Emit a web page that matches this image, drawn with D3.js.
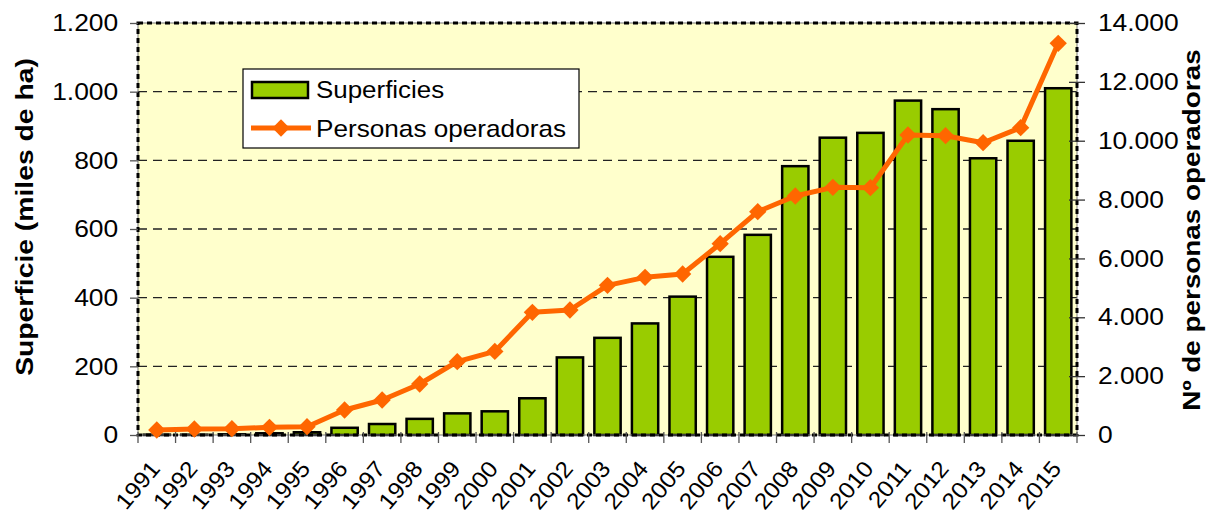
<!DOCTYPE html>
<html>
<head>
<meta charset="utf-8">
<script src="https://cdn.jsdelivr.net/npm/d3@7"></script>
<style>
  html, body { margin: 0; padding: 0; background: #fff; overflow: hidden; }
  svg { display: block; }
  text { font-family: Arial, "Liberation Sans", sans-serif; fill: #000; }
</style>
</head>
<body>
<div id="plot"></div>
<script>
const w = 1213;
const h = 513;
const margin = { top: 23, right: 136, bottom: 78, left: 138 };
const innerWidth = w - margin.left - margin.right;
const innerHeight = h - margin.top - margin.bottom;

const years = ["1991","1992","1993","1994","1995","1996","1997","1998","1999","2000",
  "2001","2002","2003","2004","2005","2006","2007","2008","2009","2010",
  "2011","2012","2013","2014","2015"];
// miles de ha
const superficies = [1, 1, 2, 5, 8, 21, 32, 47, 63, 69,
  107, 226, 283, 325, 403, 519, 583, 783, 866, 880,
  974, 949, 806, 857, 1010];
// personas operadoras
const operadoras = [170, 204, 215, 260, 283, 850, 1189, 1733, 2491, 2840,
  4169, 4247, 5086, 5358, 5470, 6500, 7590, 8121, 8416, 8404,
  10194, 10170, 9932, 10442, 13309];
const leftTicks = [0, 200, 400, 600, 800, 1000, 1200];
const rightTicks = [0, 2000, 4000, 6000, 8000, 10000, 12000, 14000];
const seriesNames = ["Superficies", "Personas operadoras"];

const locale = d3.formatLocale({ decimal: ",", thousands: ".", grouping: [3], currency: ["", "€"] });
const fmt = locale.format(",");

const svg = d3.select("div#plot")
  .append("svg")
  .attr("width", w)
  .attr("height", h);

const xScale = d3.scaleBand()
  .domain(years)
  .range([0, innerWidth])
  .paddingInner(0.3)
  .paddingOuter(0.15);

const yLeft = d3.scaleLinear().domain([0, 1200]).range([innerHeight, 0]);
const yRight = d3.scaleLinear().domain([0, 14000]).range([innerHeight, 0]);

const g = svg.append("g")
  .attr("transform", `translate(${margin.left}, ${margin.top})`);

// plot background
g.append("rect")
  .attr("width", innerWidth)
  .attr("height", innerHeight)
  .attr("fill", "#ffffcc");

// gridlines
g.selectAll(".grid")
  .data(leftTicks.filter(d => d > 0 && d < 1200))
  .enter()
  .append("line")
  .attr("x1", 0)
  .attr("x2", innerWidth)
  .attr("y1", d => yLeft(d))
  .attr("y2", d => yLeft(d))
  .attr("stroke", "#222")
  .attr("stroke-width", 1.3)
  .attr("stroke-dasharray", "9,6");

// bars
g.selectAll(".bar")
  .data(years)
  .enter()
  .append("rect")
  .attr("x", d => xScale(d))
  .attr("y", (d, i) => yLeft(superficies[i]))
  .attr("width", xScale.bandwidth())
  .attr("height", (d, i) => innerHeight - yLeft(superficies[i]))
  .attr("fill", "#99cc00")
  .attr("stroke", "#000")
  .attr("stroke-width", 2.5);

// axes lines (grey) + dashed border
g.append("rect")
  .attr("width", innerWidth)
  .attr("height", innerHeight)
  .attr("fill", "none")
  .attr("stroke", "#777")
  .attr("stroke-width", 1);
g.append("rect")
  .attr("width", innerWidth)
  .attr("height", innerHeight)
  .attr("fill", "none")
  .attr("stroke", "#000")
  .attr("stroke-width", 3)
  .attr("stroke-dasharray", "5,4");

// left axis
const yAxisL = d3.axisLeft(yLeft).tickValues(leftTicks).tickSize(8).tickPadding(10).tickFormat(fmt);
const gl = g.append("g").call(yAxisL);
gl.select(".domain").remove();
gl.selectAll("line").attr("stroke", "#555").attr("stroke-width", 1.3);
gl.selectAll("text").attr("font-size", "24px").attr("fill", "#000").attr("transform", "scale(1.1,1)");

// right axis
const yAxisR = d3.axisRight(yRight).tickValues(rightTicks).tickSize(8).tickPadding(11).tickFormat(fmt);
const gr = g.append("g").attr("transform", `translate(${innerWidth}, 0)`).call(yAxisR);
gr.select(".domain").remove();
gr.selectAll("line").attr("x1", -8).attr("stroke", "#333").attr("stroke-width", 1.3);
gr.selectAll("text").attr("font-size", "24px").attr("fill", "#000").attr("transform", "scale(1.1,1)");

// x ticks at band boundaries
const step = xScale.step();
g.selectAll(".xtick")
  .data(d3.range(years.length + 1))
  .enter()
  .append("line")
  .attr("x1", i => i * step)
  .attr("x2", i => i * step)
  .attr("y1", innerHeight - 3)
  .attr("y2", innerHeight + 8)
  .attr("stroke", "#555")
  .attr("stroke-width", 1.3);

// x labels
g.selectAll(".xlabel")
  .data(years)
  .enter()
  .append("text")
  .attr("transform", d => `translate(${xScale(d) + xScale.bandwidth() / 2 - 8}, ${innerHeight + 24}) rotate(-50) scale(1.06,1)`)
  .attr("text-anchor", "end")
  .attr("dy", "0.7em")
  .attr("font-size", "23px")
  .text(d => d);

// line
const line = d3.line()
  .x((d, i) => xScale(years[i]) + xScale.bandwidth() / 2)
  .y(d => yRight(d));

g.append("path")
  .datum(operadoras)
  .attr("d", line)
  .attr("fill", "none")
  .attr("stroke", "#ff6600")
  .attr("stroke-width", 5)
  .attr("stroke-linejoin", "round");

const diamond = d3.symbol(d3.symbolSquare, 150);
g.selectAll(".marker")
  .data(operadoras)
  .enter()
  .append("path")
  .attr("d", diamond)
  .attr("transform", (d, i) => `translate(${xScale(years[i]) + xScale.bandwidth() / 2}, ${yRight(d)}) rotate(45)`)
  .attr("fill", "#ff6600");

// legend
const legend = svg.append("g").attr("transform", "translate(243, 69)");
legend.append("rect")
  .attr("width", 336)
  .attr("height", 79)
  .attr("fill", "#fff")
  .attr("stroke", "#000")
  .attr("stroke-width", 1.2);
legend.append("rect")
  .attr("x", 9)
  .attr("y", 13)
  .attr("width", 56)
  .attr("height", 16)
  .attr("fill", "#99cc00")
  .attr("stroke", "#000")
  .attr("stroke-width", 2.5);
legend.append("text")
  .attr("transform", "translate(73, 29) scale(1.08,1)")
  .attr("font-size", "24px")
  .text(seriesNames[0]);
legend.append("line")
  .attr("x1", 8)
  .attr("x2", 68)
  .attr("y1", 59)
  .attr("y2", 59)
  .attr("stroke", "#ff6600")
  .attr("stroke-width", 5);
legend.append("path")
  .attr("d", diamond)
  .attr("transform", "translate(38, 59) rotate(45)")
  .attr("fill", "#ff6600");
legend.append("text")
  .attr("transform", "translate(73, 68) scale(1.09,1)")
  .attr("font-size", "24px")
  .text(seriesNames[1]);

// axis titles
svg.append("text")
  .attr("transform", "translate(33, 217) rotate(-90) scale(1.18,1)")
  .attr("text-anchor", "middle")
  .attr("font-size", "24px")
  .attr("font-weight", "bold")
  .text("Superficie (miles de ha)");

svg.append("text")
  .attr("transform", "translate(1200, 230) rotate(-90) scale(1.16,1)")
  .attr("text-anchor", "middle")
  .attr("font-size", "24px")
  .attr("font-weight", "bold")
  .text("Nº de personas operadoras");
</script>
</body>
</html>
